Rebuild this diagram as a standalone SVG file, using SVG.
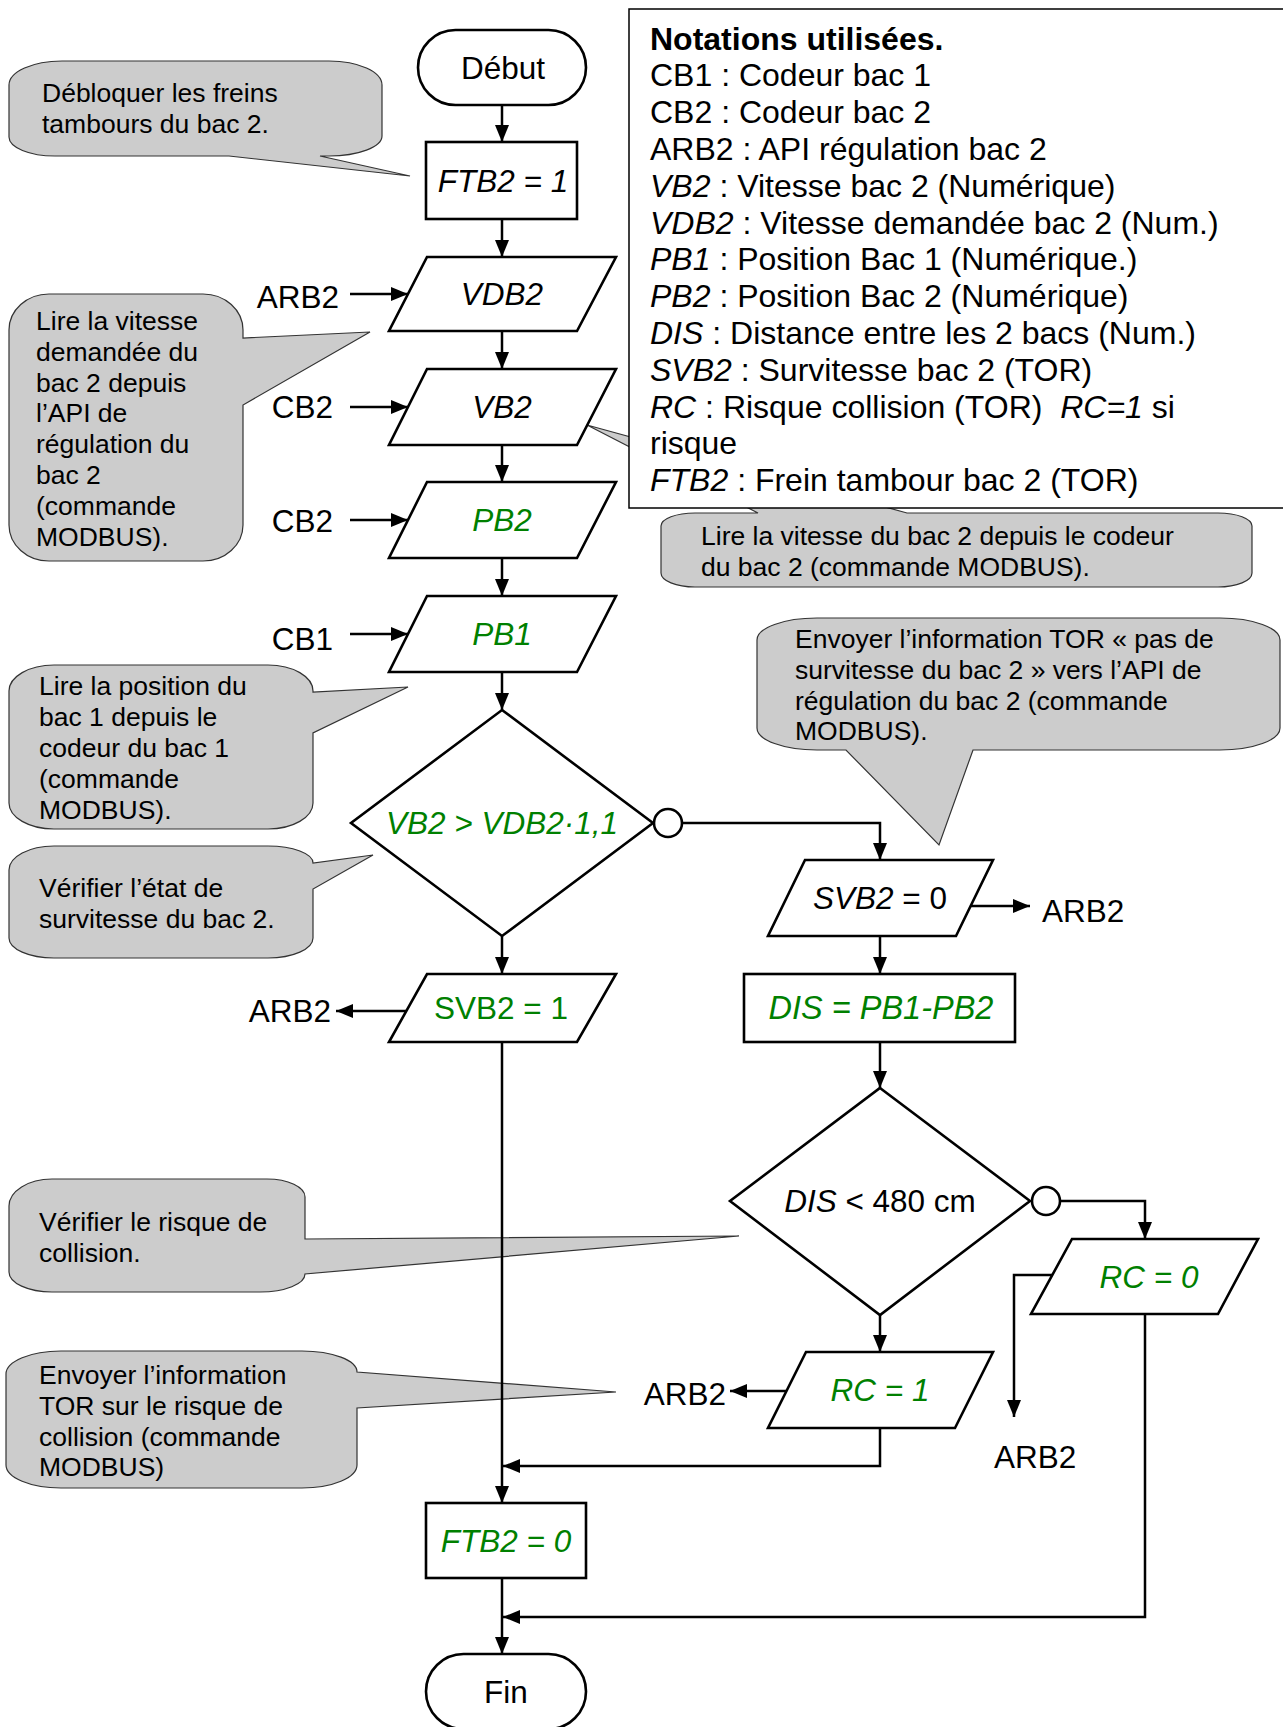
<svg xmlns="http://www.w3.org/2000/svg" width="1283" height="1727" viewBox="0 0 1283 1727">
<style>
.bg{fill:#fff}
.node{fill:#fff;stroke:#000;stroke-width:2.6;stroke-linejoin:miter}
.bub{fill:#cccccc;stroke:#333;stroke-width:1.2;stroke-linejoin:miter}
.t{font-family:"Liberation Sans",Arial,sans-serif;font-size:31.5px;fill:#000}
.n{font-size:32px}
.b{font-family:"Liberation Sans",Arial,sans-serif;font-size:26.5px;fill:#000}
.g{fill:#008000}
.i{font-style:italic}
.bold{font-weight:bold}
.c{text-anchor:middle}
.e{text-anchor:end}
.conn path{fill:none;stroke:#000;stroke-width:2.5}
.note{fill:#fff;stroke:#000;stroke-width:1.5}
</style>
<defs>
<marker id="arr" markerUnits="userSpaceOnUse" markerWidth="17" markerHeight="14" refX="17" refY="7" orient="auto">
<path d="M0,0 L17,7 L0,14 Z" fill="#000"/>
</marker>
</defs>
<rect class="bg" x="0" y="0" width="1283" height="1727"/>

<!-- speech bubbles -->
<g id="bubble-freins">
<path class="bub" d="M62,61 H329 A53,24 0 0 1 382,85 V136 A53,20 0 0 1 329,156 H320 L410,176 L229,156 H55 A46,19 0 0 1 9,137 V85 A53,24 0 0 1 62,61 Z"/>
<text class="b" x="42" y="102">Débloquer les freins</text>
<text class="b" x="42" y="133">tambours du bac 2.</text>
</g>
<g id="bubble-vdb2">
<path class="bub" d="M49,294 H203 A40,36 0 0 1 243,330 V338 L370,332 L243,405 V525 A40,36 0 0 1 203,561 H49 A40,36 0 0 1 9,525 V330 A40,36 0 0 1 49,294 Z"/>
<text class="b" x="36" y="330">Lire la vitesse</text>
<text class="b" x="36" y="361">demandée du</text>
<text class="b" x="36" y="392">bac 2 depuis</text>
<text class="b" x="36" y="422">l’API de</text>
<text class="b" x="36" y="453">régulation du</text>
<text class="b" x="36" y="484">bac 2</text>
<text class="b" x="36" y="515">(commande</text>
<text class="b" x="36" y="546">MODBUS).</text>
</g>
<g id="bubble-pb1">
<path class="bub" d="M54,665 H268 A45,26 0 0 1 313,691 V692 L408,687 L313,733 V803 A45,26 0 0 1 268,829 H54 A45,26 0 0 1 9,803 V691 A45,26 0 0 1 54,665 Z"/>
<text class="b" x="39" y="695">Lire la position du</text>
<text class="b" x="39" y="726">bac 1 depuis le</text>
<text class="b" x="39" y="757">codeur du bac 1</text>
<text class="b" x="39" y="788">(commande</text>
<text class="b" x="39" y="819">MODBUS).</text>
</g>
<g id="bubble-survitesse">
<path class="bub" d="M54,846 H268 A45,17 0 0 1 313,863 L373,855 L313,889 V938 A45,20 0 0 1 268,958 H54 A45,20 0 0 1 9,938 V870 A45,24 0 0 1 54,846 Z"/>
<text class="b" x="39" y="897">Vérifier l’état de</text>
<text class="b" x="39" y="928">survitesse du bac 2.</text>
</g>
<g id="bubble-tor">
<path class="bub" d="M817,618 H1220 A60,22 0 0 1 1280,640 V728 A60,22 0 0 1 1220,750 H973 L939,845 L846,750 H817 A60,22 0 0 1 757,728 V640 A60,22 0 0 1 817,618 Z"/>
<text class="b" x="795" y="648">Envoyer l’information TOR « pas de</text>
<text class="b" x="795" y="679">survitesse du bac 2 » vers l’API de</text>
<text class="b" x="795" y="710">régulation du bac 2 (commande</text>
<text class="b" x="795" y="740">MODBUS).</text>
</g>
<g id="bubble-vb2">
<path class="bub" d="M695,513 H758 L587,425 L907,513 H1218 A34,13 0 0 1 1252,526 V573 A34,14 0 0 1 1218,587 H695 A34,14 0 0 1 661,573 V526 A34,13 0 0 1 695,513 Z"/>
<text class="b" x="701" y="545">Lire la vitesse du bac 2 depuis le codeur</text>
<text class="b" x="701" y="576">du bac 2 (commande MODBUS).</text>
</g>
<g id="bubble-collision">
<path class="bub" d="M52,1179 H267 A38,18 0 0 1 305,1197 V1239 L739,1236 L305,1274 A45,18 0 0 1 260,1292 H52 A43,20 0 0 1 9,1272 V1206 A43,27 0 0 1 52,1179 Z"/>
<text class="b" x="39" y="1231">Vérifier le risque de</text>
<text class="b" x="39" y="1262">collision.</text>
</g>
<g id="bubble-rc">
<path class="bub" d="M61,1351 H302 A55,21 0 0 1 357,1372 L616,1392 L357,1408 V1465 A55,23 0 0 1 302,1488 H61 A55,23 0 0 1 6,1465 V1374 A55,23 0 0 1 61,1351 Z"/>
<text class="b" x="39" y="1384">Envoyer l’information</text>
<text class="b" x="39" y="1415">TOR sur le risque de</text>
<text class="b" x="39" y="1446">collision (commande</text>
<text class="b" x="39" y="1476">MODBUS)</text>
</g>

<!-- notations box -->
<g id="notations">
<rect class="note" x="629" y="9" width="670" height="499"/>
<text class="t n bold" x="650" y="49.5">Notations utilisées.</text>
<text class="t n" x="650" y="86.3">CB1 : Codeur bac 1</text>
<text class="t n" x="650" y="123.1">CB2 : Codeur bac 2</text>
<text class="t n" x="650" y="159.9">ARB2 : API régulation bac 2</text>
<text class="t n" x="650" y="196.7"><tspan class="i">VB2</tspan> : Vitesse bac 2 (Numérique)</text>
<text class="t n" x="650" y="233.5"><tspan class="i">VDB2</tspan> : Vitesse demandée bac 2 (Num.)</text>
<text class="t n" x="650" y="270.3"><tspan class="i">PB1</tspan> : Position Bac 1 (Numérique.)</text>
<text class="t n" x="650" y="307.1"><tspan class="i">PB2</tspan> : Position Bac 2 (Numérique)</text>
<text class="t n" x="650" y="343.9"><tspan class="i">DIS</tspan> : Distance entre les 2 bacs (Num.)</text>
<text class="t n" x="650" y="380.7"><tspan class="i">SVB2</tspan> : Survitesse bac 2 (TOR)</text>
<text class="t n" x="650" y="417.5" xml:space="preserve"><tspan class="i">RC</tspan> : Risque collision (TOR)  <tspan class="i">RC=1</tspan> si</text>
<text class="t n" x="650" y="454.3">risque</text>
<text class="t n" x="650" y="491.1"><tspan class="i">FTB2</tspan> : Frein tambour bac 2 (TOR)</text>
</g>

<!-- connectors -->
<g id="connectors" class="conn">
<path d="M502,105 V142" marker-end="url(#arr)"/>
<path d="M502,219 V257" marker-end="url(#arr)"/>
<path d="M502,331 V369" marker-end="url(#arr)"/>
<path d="M502,445 V482" marker-end="url(#arr)"/>
<path d="M502,558 V596" marker-end="url(#arr)"/>
<path d="M502,672 V710" marker-end="url(#arr)"/>
<path d="M350,294 H408" marker-end="url(#arr)"/>
<path d="M350,407 H408" marker-end="url(#arr)"/>
<path d="M350,520 H408" marker-end="url(#arr)"/>
<path d="M350,634 H408" marker-end="url(#arr)"/>
<path d="M682,823 H880 V860" marker-end="url(#arr)"/>
<path d="M971,906 H1030" marker-end="url(#arr)"/>
<path d="M880,936 V974" marker-end="url(#arr)"/>
<path d="M880,1042 V1088" marker-end="url(#arr)"/>
<path d="M1060,1201 H1145 V1239" marker-end="url(#arr)"/>
<path d="M1052,1275 H1014 V1417" marker-end="url(#arr)"/>
<path d="M880,1315 V1352" marker-end="url(#arr)"/>
<path d="M787,1391 H730" marker-end="url(#arr)"/>
<path d="M880,1428 V1466 H503" marker-end="url(#arr)"/>
<path d="M1145,1314 V1617 H503" marker-end="url(#arr)"/>
<path d="M502,936 V974" marker-end="url(#arr)"/>
<path d="M406,1011 H336" marker-end="url(#arr)"/>
<path d="M502,1042 V1503" marker-end="url(#arr)"/>
<path d="M502,1578 V1654" marker-end="url(#arr)"/>
</g>

<!-- nodes -->
<g id="debut">
<rect class="node" x="418" y="30" width="168" height="75" rx="37.5" ry="37.5"/>
<text class="t c" x="503" y="79">Début</text>
</g>
<g id="ftb2-1">
<rect class="node" x="426" y="142" width="151" height="77"/>
<text class="t c i" x="503" y="192">FTB2 = 1</text>
</g>
<g id="vdb2">
<polygon class="node" points="427,257 616,257 577,331 389,331"/>
<text class="t c i" x="502" y="305">VDB2</text>
</g>
<g id="vb2">
<polygon class="node" points="427,369 616,369 577,445 389,445"/>
<text class="t c i" x="502" y="418">VB2</text>
</g>
<g id="pb2">
<polygon class="node" points="427,482 616,482 577,558 389,558"/>
<text class="t c i g" x="502" y="531">PB2</text>
</g>
<g id="pb1">
<polygon class="node" points="427,596 616,596 577,672 389,672"/>
<text class="t c i g" x="502" y="645">PB1</text>
</g>
<g id="test-vb2">
<polygon class="node" points="502,710 653,823 502,936 351,823"/>
<text class="t c i g" x="502" y="834">VB2 &gt; VDB2·1,1</text>
<circle class="node" cx="668" cy="823" r="14"/>
</g>
<g id="svb2-1">
<polygon class="node" points="427,974 616,974 577,1042 389,1042"/>
<text class="t c g" x="501" y="1019">SVB2 = 1</text>
</g>
<g id="svb2-0">
<polygon class="node" points="805,860 993,860 956,936 768,936"/>
<text class="t c" x="880" y="909"><tspan class="i">SVB2</tspan> = 0</text>
</g>
<g id="dis">
<rect class="node" x="744" y="974" width="271" height="68"/>
<text class="t c i g" x="881" y="1019" style="font-size:32.5px">DIS = PB1-PB2</text>
</g>
<g id="test-dis">
<polygon class="node" points="880,1088 1030,1201 880,1315 730,1201"/>
<text class="t c" x="880" y="1212"><tspan class="i">DIS</tspan> &lt; 480 cm</text>
<circle class="node" cx="1046" cy="1201" r="14"/>
</g>
<g id="rc-0">
<polygon class="node" points="1072,1239 1258,1239 1218,1314 1031,1314"/>
<text class="t c i g" x="1149" y="1288">RC = 0</text>
</g>
<g id="rc-1">
<polygon class="node" points="806,1352 993,1352 955,1428 768,1428"/>
<text class="t c i g" x="880" y="1401">RC = 1</text>
</g>
<g id="ftb2-0">
<rect class="node" x="426" y="1503" width="160" height="75"/>
<text class="t c i g" x="506" y="1552">FTB2 = 0</text>
</g>
<g id="fin">
<rect class="node" x="426" y="1654" width="160" height="75" rx="37.5" ry="37.5"/>
<text class="t c" x="506" y="1703">Fin</text>
</g>

<!-- external labels -->
<g id="labels">
<text class="t e" x="339" y="308">ARB2</text>
<text class="t e" x="333" y="418">CB2</text>
<text class="t e" x="333" y="532">CB2</text>
<text class="t e" x="333" y="650">CB1</text>
<text class="t" x="1042" y="922">ARB2</text>
<text class="t e" x="331" y="1022">ARB2</text>
<text class="t e" x="726" y="1405">ARB2</text>
<text class="t" x="994" y="1468">ARB2</text>
</g>
</svg>
